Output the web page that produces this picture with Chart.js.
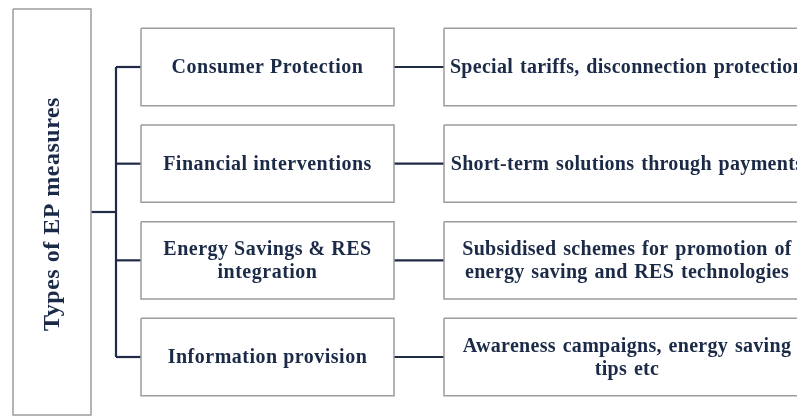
<!DOCTYPE html>
<html>
<head>
<meta charset="utf-8">
<script src="https://cdn.jsdelivr.net/npm/chart.js@4.4.1/dist/chart.umd.min.js"></script>
<style>
  html, body { margin: 0; padding: 0; background: #ffffff; }
  #wrap { width: 797px; height: 417px; position: relative; }
</style>
</head>
<body>
<div id="wrap"><canvas id="c"></canvas></div>
<script>
// ---- data ----
const title = 'Types of EP measures';
const measures = [
  ['Consumer Protection'],
  ['Financial interventions'],
  ['Energy Savings & RES', 'integration'],
  ['Information provision']
];
const descriptions = [
  ['Special tariffs, disconnection protection'],
  ['Short-term solutions through payments'],
  ['Subsidised schemes for promotion of', 'energy saving and RES technologies'],
  ['Awareness campaigns, energy saving', 'tips etc']
];
const rows = [0, 1, 2, 3];

// ---- layout (scale units) ----
const COL = { leftX0: 13, leftX1: 91, bracketX: 116, midX0: 141, midX1: 394, rightX0: 444, rightX1: 810 };
const BOX_HALF = 0.4;
const LEFT_TOP = -0.6, LEFT_BOTTOM = 3.6;
const Y_MIN = -0.6931, Y_MAX = 3.6206;

const TEXT_COLOR = '#1b2a47';
const LINE_COLOR = '#1f2b45';
const BOX_COLOR = '#9c9c9c';

function rect(x0, x1, y0, y1) {
  return [{x: x0, y: y0}, {x: x1, y: y0}, {x: x1, y: y1}, {x: x0, y: y1}, {x: x0, y: y0}];
}

const datasets = [];
// left tall box
datasets.push({ data: rect(COL.leftX0, COL.leftX1, LEFT_TOP, LEFT_BOTTOM), borderColor: BOX_COLOR, borderWidth: 1.5 });
// boxes per row
rows.forEach(r => {
  datasets.push({ data: rect(COL.midX0, COL.midX1, r - BOX_HALF, r + BOX_HALF), borderColor: BOX_COLOR, borderWidth: 1.5 });
  datasets.push({ data: rect(COL.rightX0, COL.rightX1, r - BOX_HALF, r + BOX_HALF), borderColor: BOX_COLOR, borderWidth: 1.5 });
  // branch from bracket to middle box
  datasets.push({ data: [{x: COL.bracketX, y: r}, {x: COL.midX0, y: r}], borderColor: LINE_COLOR, borderWidth: 2.2 });
  // connector middle -> right
  datasets.push({ data: [{x: COL.midX1, y: r}, {x: COL.rightX0, y: r}], borderColor: LINE_COLOR, borderWidth: 2.2 });
});
// vertical bracket
datasets.push({ data: [{x: COL.bracketX, y: rows[0]}, {x: COL.bracketX, y: rows[rows.length - 1]}], borderColor: LINE_COLOR, borderWidth: 2.2 });
// stem from left box
const midRow = (rows[0] + rows[rows.length - 1]) / 2;
datasets.push({ data: [{x: COL.leftX1, y: midRow}, {x: COL.bracketX, y: midRow}], borderColor: LINE_COLOR, borderWidth: 2.2 });

datasets.forEach(d => { d.showLine = true; d.pointRadius = 0; d.tension = 0; d.fill = false; d.borderCapStyle = 'butt'; });

const FONT = '"Liberation Serif", "Times New Roman", serif';

const textPlugin = {
  id: 'textPlugin',
  afterDatasetsDraw(chart) {
    const ctx = chart.ctx;
    const xs = chart.scales.x, ys = chart.scales.y;
    ctx.save();
    ctx.fillStyle = TEXT_COLOR;
    ctx.textAlign = 'center';
    ctx.textBaseline = 'middle';
    // vertical title
    ctx.save();
    ctx.translate(xs.getPixelForValue((COL.leftX0 + COL.leftX1) / 2) + 1, ys.getPixelForValue((LEFT_TOP + LEFT_BOTTOM) / 2) + 2);
    ctx.rotate(-Math.PI / 2);
    ctx.font = 'bold 24px ' + FONT;
    ctx.letterSpacing = '0.5px';
    ctx.fillText(title, 0, 0);
    ctx.restore();
    const lh = 23;
    rows.forEach((r, i) => {
      const cy = ys.getPixelForValue(r) + 1;
      ctx.font = 'bold 20px ' + FONT;
      ctx.letterSpacing = '0.5px';
      ctx.wordSpacing = '0px';
      const m = measures[i];
      const mx = xs.getPixelForValue((COL.midX0 + COL.midX1) / 2);
      m.forEach((t, k) => ctx.fillText(t, mx, cy + (k - (m.length - 1) / 2) * lh));
      ctx.letterSpacing = '0.3px';
      ctx.wordSpacing = '1.5px';
      const d = descriptions[i];
      const dx = xs.getPixelForValue((COL.rightX0 + COL.rightX1) / 2);
      d.forEach((t, k) => ctx.fillText(t, dx, cy + (k - (d.length - 1) / 2) * lh));
    });
    ctx.restore();
  }
};

new Chart(document.getElementById('c'), {
  type: 'scatter',
  data: { datasets },
  options: {
    responsive: true,
    maintainAspectRatio: false,
    animation: false,
    layout: { padding: 0 },
    plugins: { legend: { display: false }, tooltip: { enabled: false }, title: { display: false } },
    scales: {
      x: { type: 'linear', min: 0, max: 797, display: false },
      y: { type: 'linear', min: Y_MIN, max: Y_MAX, reverse: true, display: false }
    },
    elements: { line: { borderJoinStyle: 'miter' } }
  },
  plugins: [textPlugin]
});
</script>
</body>
</html>
